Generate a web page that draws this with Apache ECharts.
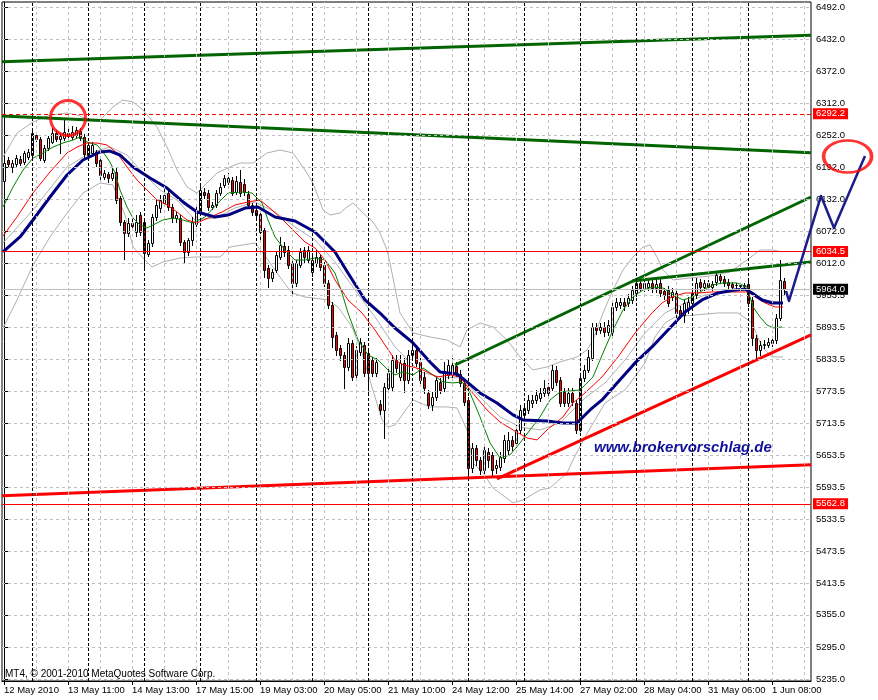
<!DOCTYPE html>
<html><head><meta charset="utf-8">
<script src="https://cdn.jsdelivr.net/npm/echarts@6/dist/echarts.min.js"></script>
<style>html,body{margin:0;padding:0;background:#fff}#c{width:878px;height:700px}</style>
</head><body><div id="c"></div>
<script>
// ---- candle data (bar index = array position) ----
const opens=[6166.5,6205.8,6192.7,6198.3,6207.7,6202.1,6211.4,6215.2,6252.6,6245.1,6205.8,6228.2,6239.5,6256.3,6245.1,6246.9,6256.3,6248.8,6252.6,6260.0,6248.8,6215.2,6218.9,6220.8,6205.8,6174.0,6179.6,6172.1,6183.4,6134.7,6089.9,6069.3,6088.0,6071.2,6102.9,6089.9,6030.0,6050.6,6099.2,6116.0,6125.4,6144.1,6117.9,6097.3,6097.3,6052.5,6033.8,6056.2,6086.1,6108.6,6146.0,6144.1,6117.9,6121.7,6144.1,6159.1,6164.7,6168.4,6146.0,6164.7,6160.9,6142.2,6121.7,6112.3,6104.8,6074.9,6003.8,5985.1,6000.1,6024.4,6045.0,6037.5,6013.2,5975.8,6009.5,6037.5,6018.8,5996.4,6013.2,6024.4,6009.5,5975.8,5934.7,5878.6,5854.2,5841.2,5818.7,5863.6,5803.8,5846.8,5859.9,5844.9,5831.8,5807.5,5749.5,5738.3,5779.4,5781.3,5831.8,5800.0,5826.2,5794.4,5841.2,5850.5,5828.1,5800.0,5770.1,5747.7,5762.6,5790.7,5779.4,5803.8,5809.4,5820.6,5805.6,5788.8,5757.0,5629.8,5667.2,5644.8,5626.1,5659.8,5654.2,5629.8,5631.7,5648.5,5663.5,5682.2,5676.6,5700.9,5729.0,5738.3,5751.4,5757.0,5760.7,5770.1,5781.3,5779.4,5813.1,5794.4,5772.0,5751.4,5770.1,5751.4,5700.9,5798.1,5813.1,5835.5,5893.5,5887.9,5893.5,5884.2,5884.2,5930.9,5934.7,5940.3,5938.4,5944.0,5957.1,5975.8,5966.4,5968.3,5975.8,5966.4,5975.8,5960.8,5962.7,5949.6,5957.1,5925.3,5915.9,5925.3,5938.4,5953.4,5977.7,5968.3,5975.8,5968.3,5977.7,5988.9,5983.3,5977.7,5973.9,5972.1,5970.2,5972.1,5973.9,5944.0,5872.9,5850.5,5859.9,5859.9,5863.6,5869.2,5910.3,5979.5];
const closes=[6200.2,6198.3,6200.2,6209.5,6200.2,6218.9,6220.8,6256.3,6245.1,6209.5,6228.2,6246.9,6256.3,6245.1,6250.7,6258.2,6250.7,6258.2,6261.9,6246.9,6217.0,6233.9,6233.9,6200.2,6177.8,6181.5,6172.1,6181.5,6131.0,6089.9,6069.3,6088.0,6082.4,6089.9,6071.2,6031.9,6050.6,6099.2,6121.7,6131.0,6140.4,6117.9,6097.3,6102.9,6052.5,6033.8,6056.2,6089.9,6108.6,6149.7,6140.4,6117.9,6121.7,6144.1,6155.3,6172.1,6172.1,6144.1,6166.5,6144.1,6146.0,6121.7,6108.6,6102.9,6071.2,6000.1,5985.1,5996.4,6028.2,6046.9,6033.8,6009.5,5975.8,6013.2,6033.8,6024.4,6037.5,6018.8,6024.4,6005.7,5975.8,5934.7,5874.8,5850.5,5841.2,5818.7,5863.6,5800.0,5850.5,5865.5,5807.5,5807.5,5807.5,5828.1,5738.3,5781.3,5807.5,5831.8,5816.8,5826.2,5794.4,5841.2,5850.5,5826.2,5794.4,5779.4,5747.7,5762.6,5794.4,5775.7,5807.5,5822.5,5822.5,5807.5,5788.8,5753.3,5629.8,5667.2,5644.8,5626.1,5663.5,5644.8,5626.1,5635.5,5650.4,5682.2,5682.2,5671.0,5700.9,5738.3,5742.0,5757.0,5757.0,5766.4,5770.1,5779.4,5770.1,5813.1,5790.7,5751.4,5751.4,5770.1,5753.3,5700.9,5798.1,5813.1,5837.4,5893.5,5887.9,5893.5,5884.2,5897.3,5930.9,5940.3,5940.3,5932.8,5947.7,5962.7,5975.8,5966.4,5975.8,5975.8,5966.4,5973.9,5957.1,5953.4,5938.4,5959.0,5919.7,5915.9,5938.4,5940.3,5957.1,5975.8,5968.3,5975.8,5968.3,5973.9,5990.8,5981.4,5975.8,5972.1,5968.3,5971.1,5972.1,5970.2,5938.4,5872.9,5850.5,5859.9,5861.7,5865.5,5869.2,5910.3,5981.4,5964.0];
const highs=[6209.5,6211.4,6205.8,6215.2,6213.3,6222.6,6226.4,6260.0,6256.3,6248.8,6233.9,6250.7,6265.6,6261.9,6256.3,6282.5,6265.6,6269.4,6267.5,6265.6,6254.4,6237.6,6239.5,6224.5,6209.5,6187.1,6183.4,6190.8,6190.8,6138.5,6093.6,6097.3,6097.3,6102.9,6108.6,6093.6,6056.2,6104.8,6131.0,6140.4,6153.4,6149.7,6123.5,6108.6,6102.9,6056.2,6059.9,6099.2,6121.7,6157.2,6153.4,6149.7,6127.3,6149.7,6162.8,6177.8,6181.5,6174.0,6175.9,6187.1,6170.3,6147.8,6125.4,6119.8,6108.6,6078.6,6009.5,6002.0,6033.8,6061.8,6052.5,6045.0,6018.8,6018.8,6041.2,6043.1,6045.0,6026.3,6037.5,6030.0,6015.1,5981.4,5940.3,5884.2,5859.9,5846.8,5872.9,5869.2,5858.0,5872.9,5865.5,5850.5,5837.4,5835.5,5757.0,5788.8,5816.8,5841.2,5841.2,5841.2,5835.5,5850.5,5863.6,5859.9,5835.5,5809.4,5775.7,5772.0,5801.9,5798.1,5828.1,5831.8,5835.5,5828.1,5813.1,5794.4,5762.6,5676.6,5672.9,5650.4,5671.0,5667.2,5659.8,5644.8,5659.8,5691.6,5697.2,5689.7,5710.3,5747.7,5751.4,5766.4,5766.4,5775.7,5779.4,5794.4,5788.8,5822.5,5820.6,5800.0,5779.4,5779.4,5779.4,5757.0,5805.6,5822.5,5850.5,5901.0,5901.0,5901.0,5902.9,5906.6,5938.4,5947.7,5947.7,5947.7,5955.2,5970.2,5981.4,5981.4,5983.3,5983.3,5985.1,5983.3,5983.3,5966.4,5970.2,5966.4,5962.7,5932.8,5945.9,5949.6,5964.6,5985.1,5983.3,5981.4,5981.4,5979.5,5994.5,5992.6,5988.9,5983.3,5977.7,5975.8,5975.8,5975.8,5979.5,5949.6,5878.6,5867.3,5869.2,5872.9,5876.7,5917.8,6018.8,5985.1];
const lows=[6159.0,6192.7,6183.4,6194.6,6196.4,6198.3,6207.7,6211.4,6241.3,6205.8,6202.1,6224.5,6237.6,6241.3,6218.9,6243.2,6246.9,6245.1,6248.8,6243.2,6211.4,6209.5,6213.3,6194.6,6164.7,6170.3,6164.7,6168.4,6125.4,6084.3,6020.7,6063.7,6074.9,6063.7,6065.6,6005.7,6026.3,6045.0,6093.6,6108.6,6119.8,6112.3,6089.9,6089.9,6046.9,6013.2,6028.2,6046.9,6082.4,6104.8,6134.7,6112.3,6114.2,6117.9,6140.4,6155.3,6160.9,6140.4,6142.2,6138.5,6140.4,6116.0,6102.9,6093.6,6052.5,5987.0,5968.3,5979.5,5996.4,6020.7,6026.3,6003.8,5957.1,5970.2,6005.7,6015.1,6013.2,5988.9,6007.6,6000.1,5970.2,5929.0,5856.1,5841.2,5831.8,5779.4,5813.1,5794.4,5798.1,5841.2,5801.9,5772.0,5801.9,5801.9,5730.8,5686.0,5773.8,5775.7,5809.4,5794.4,5772.0,5788.8,5835.5,5820.6,5786.9,5770.1,5742.0,5738.3,5757.0,5770.1,5773.8,5798.1,5798.1,5801.9,5783.2,5747.7,5613.0,5622.4,5635.5,5618.6,5620.5,5631.7,5616.8,5620.5,5626.1,5641.1,5654.2,5663.5,5669.1,5695.3,5723.3,5732.7,5743.9,5751.4,5755.1,5764.5,5764.5,5775.7,5785.1,5745.8,5745.8,5745.8,5747.7,5695.3,5695.3,5792.5,5809.4,5831.8,5880.4,5882.3,5876.7,5878.6,5878.6,5925.3,5929.0,5925.3,5932.8,5938.4,5951.5,5960.8,5960.8,5962.7,5959.0,5959.0,5951.5,5945.9,5932.8,5944.0,5893.5,5910.3,5902.9,5919.7,5932.8,5947.7,5962.7,5962.7,5962.7,5962.7,5972.1,5975.8,5970.2,5966.4,5962.7,5966.4,5966.4,5966.4,5932.8,5859.9,5835.5,5841.2,5854.2,5856.1,5858.0,5863.6,5906.6,5953.4];

// ---- indicator lines: [bar index, price] ----
const maFast=[[-0.25,6117.9],[2.25,6155.3],[4.75,6187.1],[7.25,6209.5],[9.75,6218.9],[12.25,6230.1],[14.75,6237.6],[17.25,6243.2],[19,6248.8],[20.75,6239.5],[23.25,6233.9],[24.75,6220.8],[26.5,6202.1],[27.75,6181.5],[29,6149.7],[30.75,6117.9],[32.25,6097.3],[34,6084.3],[35.75,6078.6],[37.25,6084.3],[39.75,6093.6],[42.25,6097.3],[44.75,6093.6],[47.25,6088.0],[50.25,6099.2],[53.5,6125.4],[56,6144.1],[59.5,6146.0],[62,6144.1],[64.5,6125.4],[66,6093.6],[67.75,6061.8],[70.25,6037.5],[72.75,6018.8],[75.25,6018.8],[77.75,6022.5],[80.25,6018.8],[82.75,5994.5],[84.5,5957.1],[86,5919.7],[88.5,5869.2],[91,5841.2],[93.5,5831.8],[96,5813.1],[97.75,5803.8],[99.75,5809.4],[102.25,5803.8],[104.75,5816.8],[107.25,5803.8],[109.75,5790.7],[112.25,5788.8],[114.5,5790.7],[116.5,5770.1],[119,5725.2],[121.5,5676.6],[124,5648.5],[126.5,5654.2],[129,5676.6],[131.5,5700.9],[134,5725.2],[136.5,5757.0],[139,5772.0],[141.5,5773.8],[144,5775.7],[147.25,5800.0],[149.75,5844.9],[152.25,5887.9],[154.75,5925.3],[157.25,5949.6],[159.75,5962.7],[162.25,5968.3],[164.75,5966.4],[167.25,5953.4],[169.75,5944.0],[172.25,5949.6],[174.75,5962.7],[177.25,5972.1],[179.75,5975.8],[183.25,5975.8],[185.75,5968.3],[187.25,5930.9],[189,5912.2],[190.75,5897.3],[192.25,5891.6],[194.5,5893.5]];
const maMid=[[-0.25,6063.7],[3.25,6099.2],[7.25,6144.1],[11.5,6183.4],[15.75,6218.9],[18.25,6230.1],[20.75,6237.6],[23.25,6237.6],[25.75,6233.9],[28.25,6218.9],[30.75,6192.7],[33.25,6168.4],[35.75,6149.7],[38.25,6131.0],[40.75,6121.7],[43.25,6108.6],[45.75,6093.6],[48.25,6088.0],[51,6097.3],[54.5,6108.6],[57.75,6121.7],[61,6127.3],[64,6131.0],[67,6112.3],[70.25,6089.9],[72.75,6071.2],[75.25,6052.5],[77.75,6041.2],[80.25,6018.8],[82.75,5981.4],[86,5944.0],[89.5,5919.7],[92.75,5887.9],[95.25,5859.9],[97.75,5831.8],[99.75,5822.5],[102.25,5818.7],[104.75,5813.1],[108.25,5800.0],[111.5,5803.8],[114,5800.0],[116.5,5775.7],[120.75,5738.3],[124,5715.9],[127.25,5700.9],[130.75,5685.9],[133.25,5682.2],[135.75,5700.9],[139.75,5725.2],[142.25,5751.4],[145.25,5770.1],[149.5,5800.0],[153.5,5837.4],[157.75,5882.3],[162,5919.7],[164.5,5938.4],[167,5949.6],[170.25,5957.1],[173.5,5957.1],[177,5959.0],[180.25,5959.0],[183.5,5959.0],[186,5959.0],[187.75,5949.6],[190.25,5938.4],[192.75,5930.9],[194.75,5930.9]];
const maSlow=[[-0.25,6033.8],[4,6061.8],[7.25,6093.6],[11.5,6136.6],[15.75,6177.8],[19.75,6205.8],[24,6220.8],[26.5,6222.6],[29,6215.2],[32.25,6192.7],[36.5,6172.1],[40.75,6153.4],[44.75,6127.3],[48.25,6108.6],[52.75,6099.2],[56,6102.9],[60.25,6116.0],[63.5,6117.9],[67.75,6099.2],[72.75,6091.7],[77.75,6071.2],[82.75,6033.8],[86,5994.5],[90.25,5944.0],[94.5,5915.9],[97.75,5891.6],[102.25,5863.6],[106.5,5828.1],[109,5809.4],[113.25,5805.6],[115.75,5790.7],[119,5770.1],[123.25,5751.4],[127.25,5729.0],[129.75,5719.6],[135.75,5717.7],[139.75,5714.0],[143.25,5714.0],[146.5,5738.3],[149.5,5757.0],[153.5,5790.7],[157.75,5826.2],[162,5856.1],[166,5887.9],[170.25,5921.6],[174.5,5944.0],[178.5,5957.1],[182.75,5962.7],[185.25,5964.6],[187,5957.1],[189.5,5944.0],[192,5938.4],[194.75,5938.4]];
const bbUpper=[[-0.25,6211.4],[3.25,6256.3],[7.25,6276.9],[11.5,6289.9],[15.75,6293.7],[18.25,6289.9],[21.5,6280.6],[24,6280.6],[27.25,6304.9],[29.75,6318.0],[32.25,6314.3],[34.75,6299.3],[38.25,6267.5],[40.75,6230.1],[43.25,6187.1],[45.75,6155.3],[48.25,6143.9],[50.75,6162.8],[53.25,6181.5],[56.5,6192.7],[59,6200.2],[62.25,6200.2],[65.75,6218.9],[69,6224.5],[72.25,6218.9],[74.75,6192.7],[77.25,6162.8],[79.75,6112.3],[81.5,6102.9],[84,6106.7],[85.75,6117.9],[87.25,6125.4],[89.75,6106.7],[92.25,6089.9],[94,6069.3],[95.75,6037.5],[96.5,6013.2],[99,5919.7],[102.25,5882.3],[106.5,5874.8],[110.75,5869.2],[114,5856.1],[115.75,5887.9],[119,5901.0],[122.25,5893.5],[125.75,5869.2],[129,5837.4],[132.25,5813.1],[135.75,5818.7],[139,5828.1],[143.25,5837.4],[145.75,5850.5],[147.25,5869.2],[149.75,5919.7],[152.25,5962.7],[154.75,6000.1],[157.25,6024.4],[159.75,6043.1],[161.5,6046.9],[163.25,6024.4],[164.75,6000.1],[167.25,5981.4],[171.5,5985.1],[176.5,5988.9],[181.5,5996.4],[185.75,6018.8],[189,6037.5],[192.25,6037.5],[194.5,6033.8]];
const bbMiddle=[[-0.25,6050.6],[7.25,6112.3],[15.75,6192.7],[21.5,6218.9],[26.5,6230.1],[30.75,6215.2],[34.75,6181.5],[39,6149.7],[43.25,6131.0],[47.75,6093.6],[52.75,6097.3],[57.75,6116.0],[62.75,6127.3],[67.75,6108.6],[72.75,6080.5],[77.75,6056.2],[82.75,6015.1],[87.75,5962.7],[92.75,5912.2],[97.75,5856.1],[104,5809.4],[109,5800.0],[114,5798.1],[119,5762.6],[124,5725.2],[129,5706.5],[134,5700.9],[139,5714.0],[145.25,5760.7],[150.25,5788.8],[155.25,5831.8],[160.25,5882.3],[165.25,5919.7],[170.25,5938.4],[175.25,5953.4],[180.25,5959.0],[185.25,5962.7],[190.25,5944.0],[194.75,5938.4]];
const bbLower=[[-0.25,5891.6],[3.25,5944.0],[7.25,6009.5],[11.5,6061.8],[15.75,6106.7],[19.75,6144.1],[24,6162.8],[27.25,6159.1],[30.25,6102.9],[32.25,6043.1],[34.75,6022.5],[37,6005.7],[39.75,6015.1],[44,6022.5],[47.75,6024.4],[54,6024.4],[56.5,6043.1],[62.75,6050.6],[66,6018.8],[69.5,5981.4],[72,5957.1],[75.25,5949.6],[81,5944.0],[83.5,5930.9],[87,5893.5],[89.5,5844.9],[92,5781.3],[94.5,5719.6],[96,5706.5],[97.75,5710.3],[102.25,5757.0],[106.5,5743.9],[110.75,5743.9],[113.25,5742.0],[115.75,5700.9],[117.25,5639.2],[119.75,5620.5],[122.25,5592.4],[127.25,5564.4],[129.75,5570.0],[134,5588.7],[136.5,5592.4],[140.75,5620.5],[142.25,5644.8],[145.25,5687.8],[150.25,5751.4],[155.25,5775.7],[160.25,5826.2],[162.75,5874.8],[165.25,5901.0],[167.75,5912.2],[172.75,5915.9],[178.5,5919.7],[183.5,5919.7],[187,5901.0],[189.5,5856.1],[192,5837.4],[194.75,5837.4]];

// ---- drawn objects ----
const trendUpperGreen=[[-0.5,6389.6],[201.75,6439.0]];
const trendDescGreen=[[-0.5,6288.1],[201.75,6219.5]];
const trendLowRed=[[-0.5,5578.0],[201.75,5636.0]];
const trendRiseRed=[[123.25,5609.3],[201.75,5878.6]];
const trendRiseGreen=[[112.75,5822.4],[201.75,6136.6]];
const trendFlatGreen=[[157,5979.5],[201.75,6015.1]];
const forecastPath=[[195.5,5960.8],[196.25,5942.1],[204.25,6138.5],[207.5,6078.6],[215.25,6213.3]];
const circleLeft=[[16,6284.3]];
const circleRight=[[210.9,6212.3]];
const priceLines=[{v:6292.2,label:'6292.2',kind:'dash'},{v:6034.5,label:'6034.5',kind:'red'},{v:5964.0,label:'5964.0',kind:'bid'},{v:5562.8,label:'5562.8',kind:'red'}];

// ---- axes ----
const yTicks=[6492.0,6432.0,6372.0,6312.0,6252.0,6192.0,6132.0,6072.0,6012.0,5953.5,5893.5,5833.5,5773.5,5713.5,5653.5,5593.5,5533.5,5473.5,5413.5,5355.0,5295.0,5235.0];
const xLabels=['12 May 2010','13 May 11:00','14 May 13:00','17 May 15:00','19 May 03:00','20 May 05:00','21 May 10:00','24 May 12:00','25 May 14:00','27 May 02:00','28 May 04:00','31 May 06:00','1 Jun 08:00'];
const xLabelPos=xLabels.map((_,i)=>i*16);
const xGrid=[];for(let i=8;i<=200;i+=8)xGrid.push(i);
const separators=[7,21,35,49,63,77,91,102,116,130,144,158,172,186];

const candles=opens.map((o,i)=>[i,o,closes[i],lows[i],highs[i]]);
const FONT='"Liberation Sans", Arial, sans-serif';

function renderCandle(params,api){
  const x=api.value(0),o=api.value(1),c=api.value(2),l=api.value(3),h=api.value(4);
  const pO=api.coord([x,o]),pC=api.coord([x,c]),pL=api.coord([x,l]),pH=api.coord([x,h]);
  const cx=Math.round(pO[0])+0.5;
  const top=Math.round(Math.min(pO[1],pC[1]))+0.5,bot=Math.round(Math.max(pO[1],pC[1]))+0.5;
  const up=c>=o;
  return {type:'group',children:[
    {type:'line',shape:{x1:cx,y1:Math.round(pH[1]),x2:cx,y2:Math.round(pL[1])+1},style:{stroke:'#000',lineWidth:1}},
    {type:'rect',shape:{x:cx-1,y:top,width:2,height:Math.max(bot-top,0)},style:{fill:up?'#ffffff':'#ff0000',stroke:'#000',lineWidth:1}}
  ]};
}

function renderForecast(params,api){
  if(params.dataIndex!==0) return null;
  const pts=forecastPath.map(p=>api.coord(p));
  return {type:'polyline',shape:{points:pts},style:{stroke:'#1c1c8c',lineWidth:2.5,fill:null,lineJoin:'round'}};
}

function line(name,data,color,width,z,extra){
  return Object.assign({type:'line',name,data,symbol:'none',showSymbol:false,smooth:false,
    lineStyle:{color,width},itemStyle:{color},z,animation:false,silent:true},extra||{});
}

const gridMarks=[].concat(
  yTicks.map(v=>({yAxis:v,lineStyle:{color:'#c0c0c0',type:[3,3],width:1}})),
  xGrid.map(v=>({xAxis:v,lineStyle:{color:'#c0c0c0',type:[3,3],width:1}})),
  separators.map(v=>({xAxis:v,lineStyle:{color:'#000000',type:[3,2],width:1}}))
);

const priceMarks=priceLines.map(p=>{
  const col=p.kind==='bid'?'#c0c0c0':'#ff0000';
  const bg=p.kind==='bid'?'#000000':'#ff0000';
  return {yAxis:p.v,lineStyle:{color:col,width:1,type:p.kind==='dash'?[4,3]:'solid'},
    label:{show:true,position:'end',distance:2,formatter:p.label,color:'#fff',backgroundColor:bg,
      padding:[1,3,0,3],fontSize:9.5,fontFamily:FONT}};
});

const chart=echarts.init(document.getElementById('c'),null,{renderer:'canvas'});
chart.setOption({
  animation:false,
  backgroundColor:'#ffffff',
  grid:{left:2,top:2,right:67,bottom:19,show:true,borderColor:'#000',borderWidth:1,backgroundColor:'#fff'},
  xAxis:{type:'value',min:-0.5,max:201.75,
    axisLine:{show:true,onZero:false,lineStyle:{color:'#000',width:1}},
    axisTick:{show:true,customValues:xLabelPos,length:4,lineStyle:{color:'#000'}},
    axisLabel:{show:true,customValues:xLabelPos,align:'left',margin:4,color:'#000',fontSize:9.5,fontFamily:FONT,
      formatter:v=>xLabels[Math.round(v/16)]||''},
    splitLine:{show:false}},
  yAxis:{type:'value',position:'right',min:5231.3,max:6501.35,scale:true,
    axisLine:{show:true,lineStyle:{color:'#000',width:1}},
    axisTick:{show:true,customValues:yTicks,length:4,lineStyle:{color:'#000'}},
    axisLabel:{show:true,customValues:yTicks,margin:5,color:'#000',fontSize:9.5,fontFamily:FONT,
      formatter:v=>Number(v).toFixed(1)},
    splitLine:{show:false}},
  graphic:[
    {type:'text',x:5,y:674,z:50,silent:true,style:{text:'MT4, © 2001-2010 MetaQuotes Software Corp.',fill:'#000',
      font:'10px '+FONT,align:'left',verticalAlign:'middle'}},
    {type:'text',x:594,y:448,z:50,silent:true,style:{text:'www.brokervorschlag.de',fill:'#10109a',
      font:'italic bold 15px '+FONT,align:'left',verticalAlign:'middle'}}
  ],
  series:[
    line('bbUpper',bbUpper,'#b0b0b0',1,1,{markLine:{silent:true,symbol:['none','none'],animation:false,label:{show:false},data:gridMarks}}),
    line('bbMiddle',bbMiddle,'#b0b0b0',1,1),
    line('bbLower',bbLower,'#b0b0b0',1,1),
    {type:'custom',name:'price',data:candles,renderItem:renderCandle,encode:{x:0,y:[1,2,3,4]},z:2,animation:false,silent:true},
    line('maFast',maFast,'#008000',1,3),
    line('maMid',maMid,'#ff0000',1,3),
    line('maSlow',maSlow,'#000080',3,3),
    line('trendUpperGreen',trendUpperGreen,'#006400',3,4),
    line('trendDescGreen',trendDescGreen,'#006400',3,4),
    line('trendRiseGreen',trendRiseGreen,'#006400',3,4),
    line('trendFlatGreen',trendFlatGreen,'#006400',3,4),
    line('trendLowRed',trendLowRed,'#ff0000',3,4),
    line('trendRiseRed',trendRiseRed,'#ff0000',3,4,{markLine:{silent:true,symbol:['none','none'],animation:false,data:priceMarks}}),
    {type:'custom',name:'forecast',data:forecastPath,encode:{x:0,y:1},renderItem:renderForecast,clip:false,z:10,silent:true,animation:false},
    {type:'scatter',name:'circleL',data:circleLeft,symbol:'circle',symbolSize:35,clip:false,z:11,silent:true,animation:false,
      itemStyle:{color:'rgba(0,0,0,0)',borderColor:'#ff0000',borderWidth:3}},
    {type:'scatter',name:'circleR',data:circleRight,symbol:'circle',symbolSize:[48,32],clip:false,z:11,silent:true,animation:false,
      itemStyle:{color:'rgba(0,0,0,0)',borderColor:'#ff0000',borderWidth:3}}
  ]
});
</script></body></html>
